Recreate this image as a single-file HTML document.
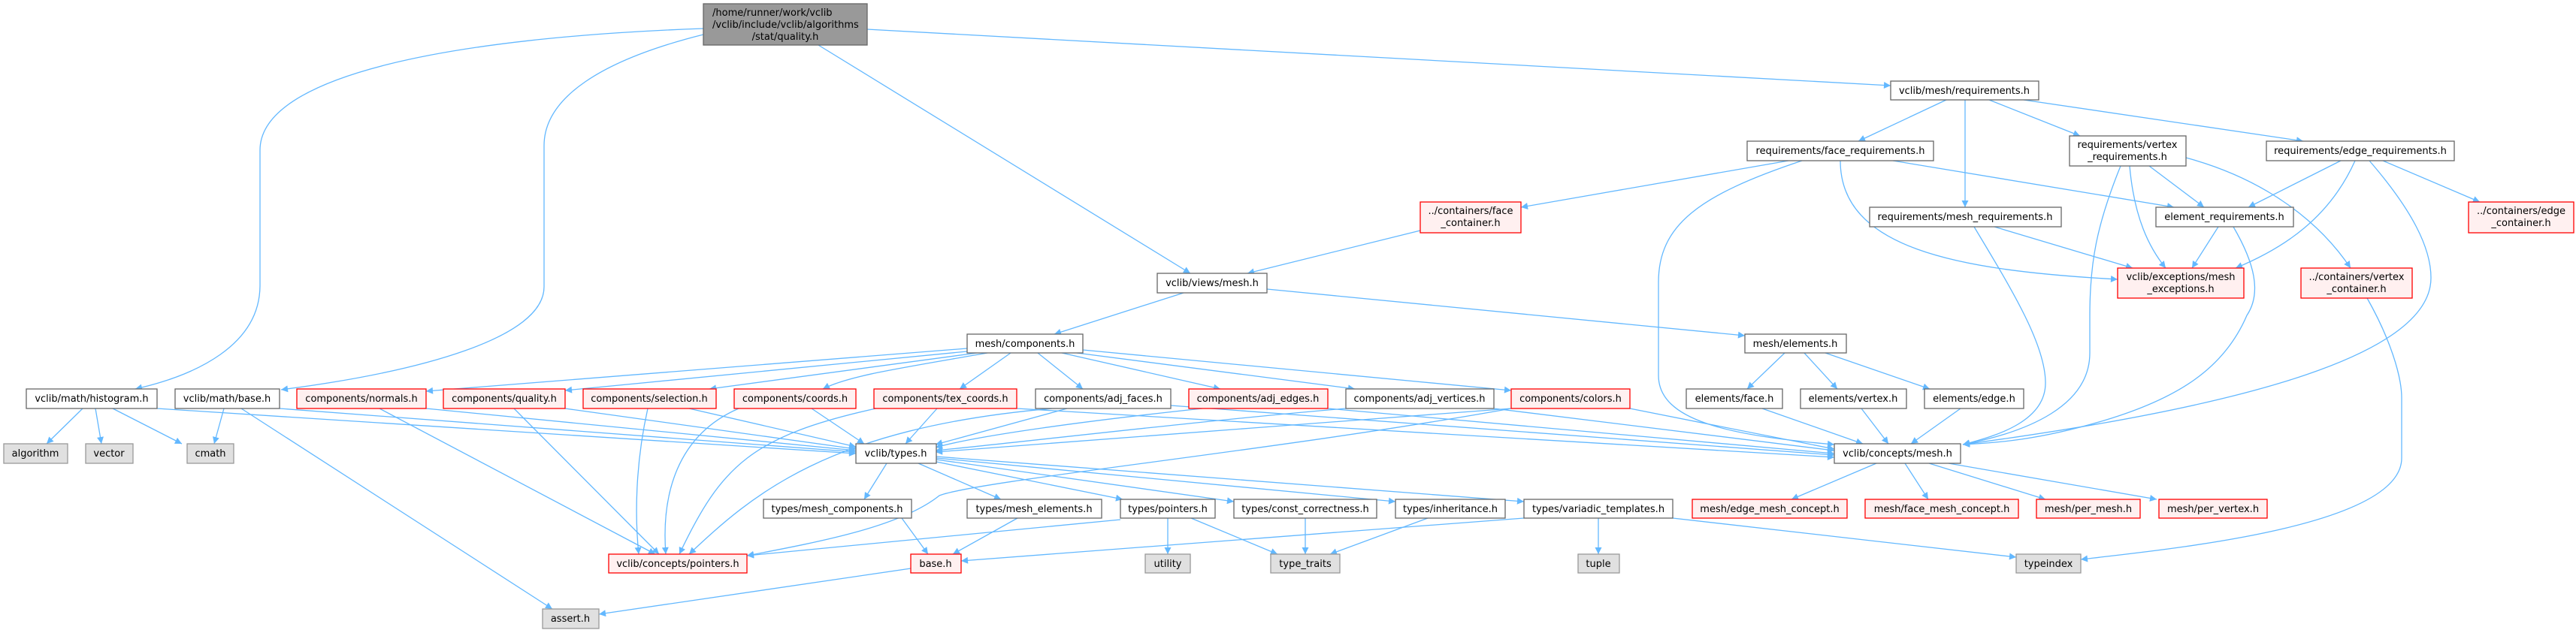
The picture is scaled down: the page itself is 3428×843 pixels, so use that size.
<!DOCTYPE html>
<html><head><meta charset="utf-8"><style>
html,body{margin:0;padding:0;background:#fff;}
svg{display:block;}
text{font-family:"DejaVu Sans","Liberation Sans",sans-serif;font-size:13px;fill:#000;}
.e{fill:none;stroke:#63b8ff;stroke-width:1.3;marker-end:url(#a);}
.n{fill:#fff;stroke:#666;stroke-width:1.3;}
.r{fill:#fff0f0;stroke:#ff0000;stroke-width:1.3;}
.g{fill:#e0e0e0;stroke:#999;stroke-width:1.3;}
</style></head><body>
<svg width="3428" height="843" viewBox="0 0 3428 843" xmlns="http://www.w3.org/2000/svg">
<defs><marker id="a" viewBox="0 0 10 10" refX="10" refY="5" markerWidth="11" markerHeight="9" markerUnits="userSpaceOnUse" orient="auto"><path d="M0,0 L10,5 L0,10 z" fill="#63b8ff"/></marker></defs>
<g>
<path class="e" d="M936,38 C600,50 346,100 346,200 L346,380 C346,460 260,500 180,518"/>
<path class="e" d="M936,46 C800,80 724,130 724,194 L724,382 C724,450 560,495 374,519"/>
<path class="e" d="M1089,60 L1584,364"/>
<path class="e" d="M1154,39 L2516,114"/>
<path class="e" d="M2590,133 L2473,188"/>
<path class="e" d="M2615,133 L2615,276"/>
<path class="e" d="M2647,133 L2768,181"/>
<path class="e" d="M2693,133 L3065,188"/>
<path class="e" d="M2380,214 L2024,276"/>
<path class="e" d="M2398,214 C2260,260 2207,300 2207,376 L2207,500 C2207,560 2300,580 2441,592"/>
<path class="e" d="M2519,214 L2893,276"/>
<path class="e" d="M2449,214 C2449,330 2600,360 2818,372"/>
<path class="e" d="M2860,221 L2933,276"/>
<path class="e" d="M2834,221 C2840,290 2860,330 2882,357"/>
<path class="e" d="M2909,210 C3020,240 3090,300 3128,357"/>
<path class="e" d="M2822,221 C2790,300 2781,350 2781,420 L2781,470 C2781,540 2700,575 2612,592"/>
<path class="e" d="M3115,214 L2992,276"/>
<path class="e" d="M3134,214 C3100,290 3040,330 2975,357"/>
<path class="e" d="M3171,214 L3300,269"/>
<path class="e" d="M3153,214 C3210,280 3235,330 3235,370 C3235,470 3000,540 2612,592"/>
<path class="e" d="M2654,302 L2838,357"/>
<path class="e" d="M2627,302 C2680,390 2722,460 2722,510 C2722,560 2660,580 2612,592"/>
<path class="e" d="M2952,302 L2917,357"/>
<path class="e" d="M2972,302 C3000,350 3010,390 2990,420 C2960,490 2900,530 2800,560 C2700,590 2640,590 2612,592"/>
<path class="e" d="M3150,397 C3180,450 3196,500 3196,530 L3196,610 C3196,700 2900,730 2769,745"/>
<path class="e" d="M1890,307 L1660,364"/>
<path class="e" d="M1575,390 L1403,445"/>
<path class="e" d="M1686,385 L2322,447"/>
<path class="e" d="M2375,470 L2325,518"/>
<path class="e" d="M2401,470 L2445,518"/>
<path class="e" d="M2429,470 L2568,518"/>
<path class="e" d="M2345,544 L2479,591"/>
<path class="e" d="M2477,544 L2513,591"/>
<path class="e" d="M2609,544 L2543,591"/>
<path class="e" d="M2497,617 L2384,665"/>
<path class="e" d="M2535,617 L2566,665"/>
<path class="e" d="M2567,617 L2722,665"/>
<path class="e" d="M2593,617 L2870,665"/>
<path class="e" d="M1287,464 L567,521"/>
<path class="e" d="M1287,468 L752,520"/>
<path class="e" d="M1300,470 L944,518"/>
<path class="e" d="M1314,470 C1200,490 1130,500 1095,518"/>
<path class="e" d="M1345,470 L1277,518"/>
<path class="e" d="M1381,470 L1441,518"/>
<path class="e" d="M1413,470 L1624,518"/>
<path class="e" d="M1433,470 L1803,518"/>
<path class="e" d="M1441,466 L2011,520"/>
<path class="e" d="M567,544 L1139,600"/>
<path class="e" d="M752,544 L1139,598"/>
<path class="e" d="M917,544 L1139,595"/>
<path class="e" d="M1080,544 L1150,591"/>
<path class="e" d="M1247,544 L1205,591"/>
<path class="e" d="M1420,544 L1245,592"/>
<path class="e" d="M1600,544 C1450,560 1300,580 1245,596"/>
<path class="e" d="M1791,544 C1600,560 1350,590 1245,600"/>
<path class="e" d="M2011,544 C1800,560 1400,590 1245,602"/>
<path class="e" d="M209,544 L1139,604"/>
<path class="e" d="M372,544 L1139,602"/>
<path class="e" d="M505,544 L872,738"/>
<path class="e" d="M684,544 L877,738"/>
<path class="e" d="M862,544 C845,620 845,690 850,738"/>
<path class="e" d="M983,544 C900,580 880,660 886,738"/>
<path class="e" d="M1170,543 C1000,580 960,620 904,738"/>
<path class="e" d="M1400,544 C1100,570 1000,660 917,738"/>
<path class="e" d="M2011,544 C1700,600 1300,640 1250,660 C1200,700 1100,720 994,740"/>
<path class="e" d="M1353,544 L2441,609"/>
<path class="e" d="M1558,540 L2441,606"/>
<path class="e" d="M1767,544 L2441,604"/>
<path class="e" d="M1988,544 L2441,600"/>
<path class="e" d="M2169,544 L2441,598"/>
<path class="e" d="M1180,617 L1150,665"/>
<path class="e" d="M1222,617 L1332,665"/>
<path class="e" d="M1246,615 L1494,665"/>
<path class="e" d="M1246,612 L1642,668"/>
<path class="e" d="M1246,610 L1857,668"/>
<path class="e" d="M1246,608 L2028,668"/>
<path class="e" d="M1200,690 L1235,738"/>
<path class="e" d="M1354,690 L1268,738"/>
<path class="e" d="M1554,690 L1554,738"/>
<path class="e" d="M1585,690 L1700,738"/>
<path class="e" d="M1491,692 L994,740"/>
<path class="e" d="M1737,690 L1737,738"/>
<path class="e" d="M1900,690 L1770,738"/>
<path class="e" d="M2127,690 L2127,738"/>
<path class="e" d="M2226,690 L2683,742"/>
<path class="e" d="M2028,690 L1279,747"/>
<path class="e" d="M1212,757 L797,818"/>
<path class="e" d="M298,544 L285,591"/>
<path class="e" d="M321,544 L735,811"/>
<path class="e" d="M110,544 L62,591"/>
<path class="e" d="M127,544 L135,591"/>
<path class="e" d="M150,544 L242,591"/>
</g>
<g>
<rect x="936" y="5" width="218" height="55" fill="#999" stroke="#666" stroke-width="1.3"/>
<text x="948" y="21">/home/runner/work/vclib</text>
<text x="948" y="37">/vclib/include/vclib/algorithms</text>
<text x="1045" y="53" text-anchor="middle">/stat/quality.h</text>

<rect class="n" x="2516" y="108" width="197" height="25"/><text x="2614" y="125" text-anchor="middle">vclib/mesh/requirements.h</text>
<rect class="n" x="2325" y="188" width="248" height="26"/><text x="2449" y="205" text-anchor="middle">requirements/face_requirements.h</text>
<rect class="n" x="2754" y="181" width="155" height="40"/><text x="2831" y="197" text-anchor="middle">requirements/vertex</text><text x="2831" y="213" text-anchor="middle">_requirements.h</text>
<rect class="n" x="3016" y="188" width="250" height="26"/><text x="3141" y="205" text-anchor="middle">requirements/edge_requirements.h</text>
<rect class="n" x="2488" y="276" width="255" height="26"/><text x="2615" y="293" text-anchor="middle">requirements/mesh_requirements.h</text>
<rect class="n" x="2869" y="276" width="183" height="26"/><text x="2960" y="293" text-anchor="middle">element_requirements.h</text>
<rect class="r" x="3285" y="269" width="140" height="41"/><text x="3355" y="285" text-anchor="middle">../containers/edge</text><text x="3355" y="301" text-anchor="middle">_container.h</text>
<rect class="r" x="1890" y="269" width="134" height="41"/><text x="1957" y="285" text-anchor="middle">../containers/face</text><text x="1957" y="301" text-anchor="middle">_container.h</text>
<rect class="r" x="2818" y="357" width="168" height="40"/><text x="2902" y="373" text-anchor="middle">vclib/exceptions/mesh</text><text x="2902" y="389" text-anchor="middle">_exceptions.h</text>
<rect class="r" x="3062" y="357" width="148" height="40"/><text x="3136" y="373" text-anchor="middle">../containers/vertex</text><text x="3136" y="389" text-anchor="middle">_container.h</text>
<rect class="n" x="1540" y="364" width="146" height="26"/><text x="1613" y="381" text-anchor="middle">vclib/views/mesh.h</text>
<rect class="n" x="1287" y="445" width="154" height="25"/><text x="1364" y="462" text-anchor="middle">mesh/components.h</text>
<rect class="n" x="2322" y="445" width="135" height="25"/><text x="2389" y="462" text-anchor="middle">mesh/elements.h</text>

<rect class="n" x="35" y="518" width="174" height="26"/><text x="122" y="535" text-anchor="middle">vclib/math/histogram.h</text>
<rect class="n" x="233" y="518" width="139" height="26"/><text x="302" y="535" text-anchor="middle">vclib/math/base.h</text>
<rect class="r" x="395" y="518" width="172" height="26"/><text x="481" y="535" text-anchor="middle">components/normals.h</text>
<rect class="r" x="590" y="518" width="162" height="26"/><text x="671" y="535" text-anchor="middle">components/quality.h</text>
<rect class="r" x="776" y="518" width="177" height="26"/><text x="864" y="535" text-anchor="middle">components/selection.h</text>
<rect class="r" x="977" y="518" width="162" height="26"/><text x="1058" y="535" text-anchor="middle">components/coords.h</text>
<rect class="r" x="1163" y="518" width="190" height="26"/><text x="1258" y="535" text-anchor="middle">components/tex_coords.h</text>
<rect class="n" x="1378" y="518" width="180" height="26"/><text x="1468" y="535" text-anchor="middle">components/adj_faces.h</text>
<rect class="r" x="1582" y="518" width="185" height="26"/><text x="1674" y="535" text-anchor="middle">components/adj_edges.h</text>
<rect class="n" x="1791" y="518" width="197" height="26"/><text x="1889" y="535" text-anchor="middle">components/adj_vertices.h</text>
<rect class="r" x="2011" y="518" width="158" height="26"/><text x="2090" y="535" text-anchor="middle">components/colors.h</text>
<rect class="n" x="2244" y="518" width="128" height="26"/><text x="2308" y="535" text-anchor="middle">elements/face.h</text>
<rect class="n" x="2396" y="518" width="141" height="26"/><text x="2466" y="535" text-anchor="middle">elements/vertex.h</text>
<rect class="n" x="2561" y="518" width="132" height="26"/><text x="2627" y="535" text-anchor="middle">elements/edge.h</text>

<rect class="g" x="5" y="591" width="85" height="26"/><text x="47" y="608" text-anchor="middle">algorithm</text>
<rect class="g" x="114" y="591" width="63" height="26"/><text x="145" y="608" text-anchor="middle">vector</text>
<rect class="g" x="249" y="591" width="62" height="26"/><text x="280" y="608" text-anchor="middle">cmath</text>
<rect class="n" x="1139" y="591" width="107" height="26"/><text x="1192" y="608" text-anchor="middle">vclib/types.h</text>
<rect class="n" x="2441" y="591" width="168" height="26"/><text x="2525" y="608" text-anchor="middle">vclib/concepts/mesh.h</text>

<rect class="n" x="1016" y="665" width="197" height="25"/><text x="1114" y="682" text-anchor="middle">types/mesh_components.h</text>
<rect class="n" x="1287" y="665" width="179" height="25"/><text x="1376" y="682" text-anchor="middle">types/mesh_elements.h</text>
<rect class="n" x="1491" y="665" width="126" height="25"/><text x="1554" y="682" text-anchor="middle">types/pointers.h</text>
<rect class="n" x="1642" y="665" width="190" height="25"/><text x="1737" y="682" text-anchor="middle">types/const_correctness.h</text>
<rect class="n" x="1857" y="665" width="146" height="25"/><text x="1930" y="682" text-anchor="middle">types/inheritance.h</text>
<rect class="n" x="2028" y="665" width="198" height="25"/><text x="2127" y="682" text-anchor="middle">types/variadic_templates.h</text>
<rect class="r" x="2252" y="665" width="206" height="25"/><text x="2355" y="682" text-anchor="middle">mesh/edge_mesh_concept.h</text>
<rect class="r" x="2482" y="665" width="204" height="25"/><text x="2584" y="682" text-anchor="middle">mesh/face_mesh_concept.h</text>
<rect class="r" x="2710" y="665" width="138" height="25"/><text x="2779" y="682" text-anchor="middle">mesh/per_mesh.h</text>
<rect class="r" x="2873" y="665" width="144" height="25"/><text x="2945" y="682" text-anchor="middle">mesh/per_vertex.h</text>

<rect class="r" x="810" y="738" width="184" height="25"/><text x="902" y="755" text-anchor="middle">vclib/concepts/pointers.h</text>
<rect class="r" x="1212" y="738" width="67" height="25"/><text x="1245" y="755" text-anchor="middle">base.h</text>
<rect class="g" x="1524" y="738" width="60" height="25"/><text x="1554" y="755" text-anchor="middle">utility</text>
<rect class="g" x="1691" y="738" width="92" height="25"/><text x="1737" y="755" text-anchor="middle">type_traits</text>
<rect class="g" x="2100" y="738" width="55" height="25"/><text x="2127" y="755" text-anchor="middle">tuple</text>
<rect class="g" x="2683" y="738" width="86" height="25"/><text x="2726" y="755" text-anchor="middle">typeindex</text>
<rect class="g" x="722" y="811" width="75" height="26"/><text x="759" y="828" text-anchor="middle">assert.h</text>
</g>
</svg>
</body></html>
